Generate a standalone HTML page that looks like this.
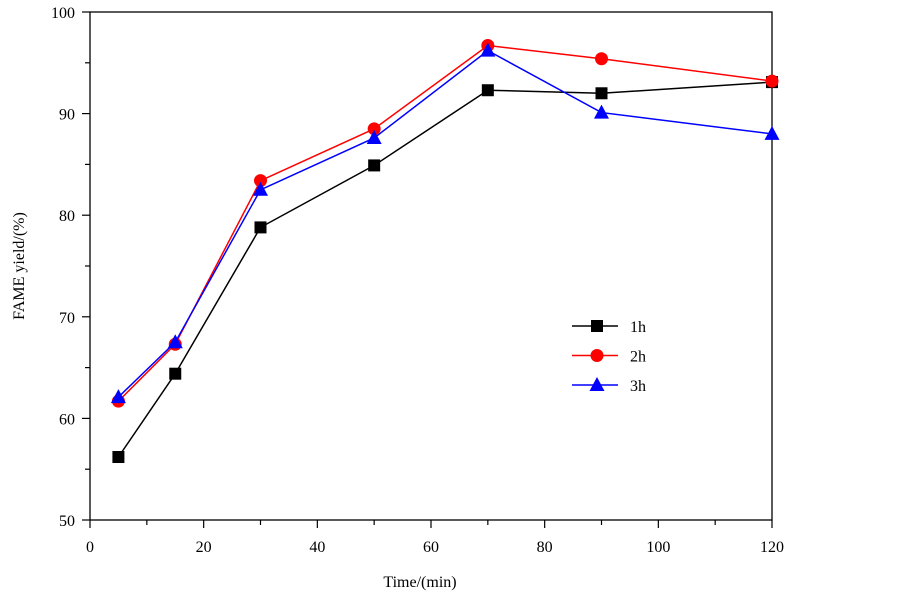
<!DOCTYPE html>
<html><head><meta charset="utf-8"><style>
body{margin:0;background:#fff}
svg{display:block;font-family:"Liberation Serif",serif}
</style></head><body>
<svg id="chart" width="903" height="595">
<rect x="90" y="12" width="682" height="508" fill="none" stroke="#000" stroke-width="1.3"/>
<g id="axes"></g><g id="series"></g><g id="legend"></g>
<text x="420" y="587" font-size="16" text-anchor="middle">Time/(min)</text>
<text transform="translate(24,266) rotate(-90)" font-size="16" text-anchor="middle">FAME yield/(%)</text>
</svg>
<script>
const times=[5,15,30,50,70,90,120];
const y1h=[56.2,64.4,78.8,84.9,92.3,92.0,93.1];
const y2h=[61.7,67.3,83.4,88.5,96.7,95.4,93.2];
const y3h=[62.1,67.5,82.5,87.6,96.2,90.1,88.0];
const xTicks=[0,20,40,60,80,100,120];
const yTicks=[50,60,70,80,90,100];
const seriesNames=["1h","2h","3h"];
const NS="http://www.w3.org/2000/svg";
const X=v=>90+v*(682/120), Y=v=>520-(v-50)*(508/50);
function mk(t,a,p){const e=document.createElementNS(NS,t);for(const k in a)e.setAttribute(k,a[k]);p.appendChild(e);return e;}
const ax=document.getElementById('axes');
for(let v=0;v<=120;v+=10){const x=X(v);const l=mk('line',{x1:x,x2:x,y1:520,y2:v%20?525:528,stroke:'#000','stroke-width':1.2},ax);

}
xTicks.forEach(v=>{const t=mk('text',{x:X(v),y:552,'font-size':16,'text-anchor':'middle'},ax);t.textContent=v;

});
for(let v=50;v<=100;v+=5){const y=Y(v);const l=mk('line',{x1:v%10?85:82,x2:90,y1:y,y2:y,stroke:'#000','stroke-width':1.2},ax);

}
yTicks.forEach(v=>{const t=mk('text',{x:75,y:Y(v)+6,'font-size':16,'text-anchor':'end'},ax);t.textContent=v;

});
const cols=['#000','#f00','#00f'];
function marker(kind,x,y,c,p){
 if(kind===0)return mk('rect',{x:x-6,y:y-6,width:12,height:12,fill:c},p);
 if(kind===1)return mk('circle',{cx:x,cy:y,r:6.5,fill:c},p);
 return mk('polygon',{points:`${x},${y-8} ${x-7.5},${y+6} ${x+7.5},${y+6}`,fill:c},p);
}
const sg=document.getElementById('series');
[y1h,y2h,y3h].forEach((d,i)=>{
 const g=mk('g',{},sg);
 
 
 const pl=mk('polyline',{points:times.map((t,j)=>X(t)+','+Y(d[j])).join(' '),fill:'none',stroke:cols[i],'stroke-width':1.5},g);
 
 
 times.forEach((t,j)=>{const m=marker(i,X(t),Y(d[j]),cols[i],g);
  
  });
});
const lg=document.getElementById('legend');
seriesNames.forEach((n,i)=>{
 const y=326+i*29.5;
 const g=mk('g',{},lg);
 
 
 mk('line',{x1:572,x2:618,y1:y,y2:y,stroke:cols[i],'stroke-width':1.5},g);
 marker(i,597,y,cols[i],g);
 const t=mk('text',{x:630,y:y+6,'font-size':16},g);t.textContent=n;
});
</script>
</body></html>
